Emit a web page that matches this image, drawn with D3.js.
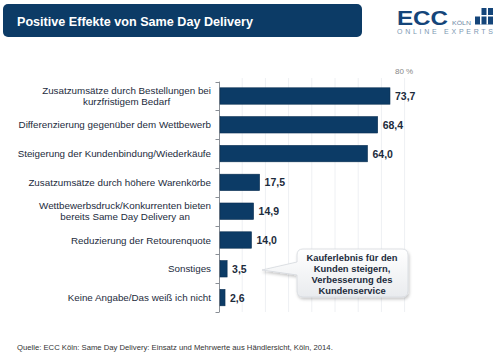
<!DOCTYPE html>
<html><head><meta charset="utf-8">
<script src="https://cdn.jsdelivr.net/npm/d3@7"></script>
<style>
html,body{margin:0;padding:0;background:#fff;}
svg{display:block;font-family:"Liberation Sans",Arial,sans-serif;}
</style></head>
<body>
<script>
const categories = [
  ["Zusatzumsätze durch Bestellungen bei","kurzfristigem Bedarf"],
  ["Differenzierung gegenüber dem Wettbewerb"],
  ["Steigerung der Kundenbindung/Wiederkäufe"],
  ["Zusatzumsätze durch höhere Warenkörbe"],
  ["Wettbewerbsdruck/Konkurrenten bieten","bereits Same Day Delivery an"],
  ["Reduzierung der Retourenquote"],
  ["Sonstiges"],
  ["Keine Angabe/Das weiß ich nicht"]
];
const values = [73.7, 68.4, 64.0, 17.5, 14.9, 14.0, 3.5, 2.6];
const gridTicks = [10, 20, 30, 40, 50, 60, 70, 80];
const title = "Positive Effekte von Same Day Delivery";
const axisMaxLabel = "80 %";
const calloutLines = ["Kauferlebnis für den","Kunden steigern,","Verbesserung des","Kundenservice"];
const source = "Quelle: ECC Köln: Same Day Delivery: Einsatz und Mehrwerte aus Händlersicht, Köln, 2014.";

const W = 500, H = 356;
const navy = "#0c3b66";
const svg = d3.select("body").append("svg").attr("width", W).attr("height", H);

const defs = svg.append("defs");
const grad = defs.append("linearGradient").attr("id","cg").attr("x1",0).attr("y1",0).attr("x2",0).attr("y2",1);
grad.append("stop").attr("offset","0%").attr("stop-color","#ffffff");
grad.append("stop").attr("offset","100%").attr("stop-color","#e9ebee");
const filt = defs.append("filter").attr("id","sh").attr("x","-20%").attr("y","-20%").attr("width","140%").attr("height","150%");
filt.append("feDropShadow").attr("dx",1).attr("dy",2).attr("stdDeviation",1.5).attr("flood-color","#000").attr("flood-opacity",0.22);

// Header
svg.append("rect").attr("x",3).attr("y",4).attr("width",359).attr("height",33).attr("rx",5).attr("fill",navy);
svg.append("text").attr("x",17).attr("y",25.5).attr("fill","#fff").attr("font-size",12.6).attr("font-weight","bold").text(title);

// Logo
const logo = svg.append("g");
logo.append("text").attr("x",397).attr("y",24.5).attr("fill","#14457a").attr("font-size",21).attr("font-weight","bold")
  .attr("textLength",51).attr("lengthAdjust","spacingAndGlyphs").text("ECC");
logo.append("text").attr("x",452).attr("y",24.5).attr("fill","#6b86a3").attr("font-size",6)
  .attr("textLength",19).attr("lengthAdjust","spacingAndGlyphs").text("KÖLN");
logo.append("rect").attr("x",475).attr("y",8).attr("width",18).attr("height",16.5).attr("fill","#14457a");
logo.append("rect").attr("x",480).attr("y",8).attr("width",1.5).attr("height",16.5).attr("fill","#fff");
logo.append("rect").attr("x",486.5).attr("y",8).attr("width",1.5).attr("height",16.5).attr("fill","#fff");
logo.append("rect").attr("x",475).attr("y",15).attr("width",18).attr("height",1.5).attr("fill","#fff");
logo.append("rect").attr("x",475).attr("y",8).attr("width",5).attr("height",7).attr("fill","#fff");
logo.append("text").attr("x",397).attr("y",33.5).attr("fill","#7d97b2").attr("font-size",7)
  .attr("textLength",96).attr("lengthAdjust","spacing").text("ONLINE EXPERTS");

// Scales
const x0 = 219;
const x = d3.scaleLinear().domain([0, 80]).range([x0, 404.6]);
const y = d3.scaleBand().domain(d3.range(values.length)).range([81.6, 312]).paddingInner(0.43).paddingOuter(0.215);

// Grid
svg.append("g").selectAll("line").data(gridTicks).join("line")
  .attr("x1", d => x(d)).attr("x2", d => x(d)).attr("y1", 78).attr("y2", 312)
  .attr("stroke","#eef0f3").attr("stroke-width",1);
svg.append("text").attr("x", x(80) - 0.5).attr("y", 73.5).attr("text-anchor","middle").attr("fill","#888").attr("font-size",8).text(axisMaxLabel);

// Axis line and ticks at category boundaries
svg.append("line").attr("x1",x0+0.5).attr("x2",x0+0.5).attr("y1",y.range()[0]).attr("y2",y.range()[1]).attr("stroke","#8a8f96").attr("stroke-width",1);
const bounds = d3.range(values.length + 1).map(i => y.range()[0] + i * y.step());
svg.append("g").selectAll("line").data(bounds).join("line")
  .attr("x1", x0 - 3.5).attr("x2", x0 + 0.5).attr("y1", d => Math.round(d)+0.5).attr("y2", d => Math.round(d)+0.5)
  .attr("stroke","#8a8f96");

// Bars
svg.append("g").selectAll("rect").data(values).join("rect")
  .attr("x", x0 + 1).attr("y", (d,i) => y(i)).attr("width", d => x(d) - x0 - 1).attr("height", y.bandwidth())
  .attr("fill", navy).attr("stroke","#0a2f52").attr("stroke-width",0.6);

// Value labels
svg.append("g").selectAll("text").data(values).join("text")
  .attr("x", d => x(d) + 5).attr("y", (d,i) => y(i) + y.bandwidth()/2 + 4)
  .attr("fill","#1c2b3c").attr("font-size",10.5).attr("font-weight","bold")
  .text(d => d.toFixed(1).replace(".", ","));

// Category labels (block right-aligned, lines centered)
const labRight = 211;
const lab = svg.append("g").selectAll("text").data(categories).join("text")
  .attr("text-anchor","middle").attr("fill","#1c2b3c").attr("font-size",9.8);
lab.each(function(lines, i){
  const t = d3.select(this);
  const n = lines.length;
  const spans = lines.map((l, k) => t.append("tspan").attr("y", y(i) + y.bandwidth()/2 + (k - (n-1)/2) * 11 + 3.6).text(l));
  const maxW = d3.max(spans, s => s.node().getComputedTextLength());
  spans.forEach(s => s.attr("x", labRight - maxW/2));
});

// Callout
const cx = 297, cy = 249, cw = 111, ch = 48;
const cg = svg.append("g").attr("filter","url(#sh)");
const r = 6;
const path = `M${cx+r},${cy} H${cx+cw-r} Q${cx+cw},${cy} ${cx+cw},${cy+r} V${cy+ch-r} Q${cx+cw},${cy+ch} ${cx+cw-r},${cy+ch} H${cx+r} Q${cx},${cy+ch} ${cx},${cy+ch-r} V${cy+26} L${262},${cy+21} L${cx},${cy+13} V${cy+r} Q${cx},${cy} ${cx+r},${cy} Z`;
cg.append("path").attr("d", path).attr("fill","url(#cg)").attr("stroke","#d4d8dd").attr("stroke-width",0.8);
svg.append("g").selectAll("text").data(calloutLines).join("text")
  .attr("x", cx + cw/2 - 0.5).attr("y", (d,i) => cy + 11.5 + i * 11)
  .attr("text-anchor","middle").attr("fill","#1c2b3c").attr("font-size",9.4).attr("font-weight","bold").text(d => d);

// Source
svg.append("text").attr("x",17).attr("y",350).attr("fill","#333").attr("font-size",7.7).text(source);
</script>
</body></html>
